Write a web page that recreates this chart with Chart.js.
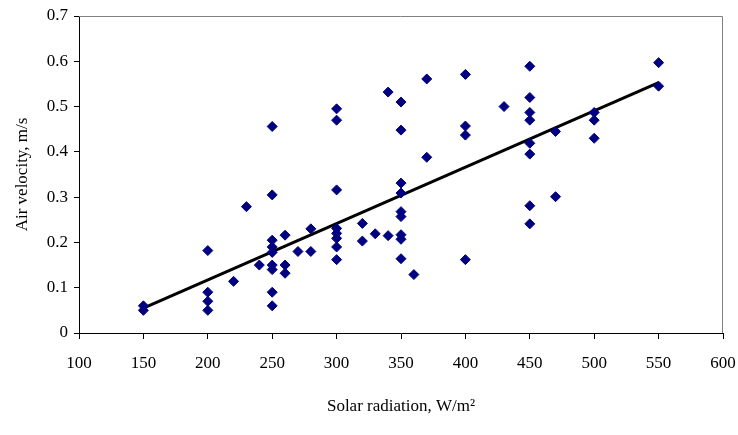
<!DOCTYPE html>
<html>
<head>
<meta charset="utf-8">
<script src="https://cdn.jsdelivr.net/npm/chart.js@4.4.1/dist/chart.umd.min.js"></script>
<style>
  html, body { margin: 0; padding: 0; background: #fff; }
  #wrap { width: 738px; height: 435px; }
</style>
</head>
<body>
<div id="wrap"><canvas id="chart"></canvas></div>
<script>
// Measured points: solar radiation (W/m2) vs air velocity (m/s)
const radiation = [
  150, 150,
  200, 200, 200, 200,
  220, 230, 240,
  250, 250, 250, 250, 250, 250, 250, 250, 250,
  260, 260, 260, 270, 280, 280,
  300, 300, 300, 300, 300, 300, 300, 300,
  320, 320, 330, 340, 340,
  350, 350, 350, 350, 350, 350, 350, 350, 350,
  360, 370, 370,
  400, 400, 400, 400, 430,
  450, 450, 450, 450, 450, 450, 450, 450,
  470, 470, 500, 500, 500, 550, 550
];
const velocity = [
  0.06, 0.05,
  0.182, 0.09, 0.07, 0.05,
  0.114, 0.279, 0.15,
  0.456, 0.305, 0.205, 0.19, 0.178, 0.15, 0.14, 0.09, 0.06,
  0.216, 0.15, 0.132, 0.18, 0.23, 0.18,
  0.495, 0.47, 0.316, 0.231, 0.22, 0.209, 0.19, 0.162,
  0.242, 0.203, 0.219, 0.532, 0.215,
  0.51, 0.448, 0.331, 0.309, 0.268, 0.257, 0.217, 0.207, 0.164,
  0.129, 0.561, 0.388,
  0.571, 0.457, 0.437, 0.162, 0.50,
  0.589, 0.52, 0.487, 0.47, 0.419, 0.395, 0.281, 0.241,
  0.445, 0.301, 0.487, 0.47, 0.43, 0.597, 0.545
];

// Linear trend line end points
const trendX = [150, 550];
const trendY = [0.055, 0.553];

const xTicks = [100, 150, 200, 250, 300, 350, 400, 450, 500, 550, 600];
const yTicks = [0, 0.1, 0.2, 0.3, 0.4, 0.5, 0.6, 0.7];

const FONT = "'Liberation Serif', 'Times New Roman', serif";
const NAVY = '#000080';

// grey frame on top and right of the plot area
const frame = {
  id: 'frame',
  beforeDatasetsDraw(chart) {
    const { ctx, chartArea: a } = chart;
    ctx.save();
    ctx.strokeStyle = '#808080';
    ctx.lineWidth = 1;
    ctx.beginPath();
    ctx.moveTo(a.left, a.top + 0.5);
    ctx.lineTo(a.right - 0.5, a.top + 0.5);
    ctx.lineTo(a.right - 0.5, a.bottom);
    ctx.stroke();
    ctx.restore();
  }
};

new Chart(document.getElementById('chart'), {
  type: 'scatter',
  data: {
    datasets: [
      {
        label: 'Air velocity',
        data: radiation.map((x, i) => ({ x: x, y: velocity[i] })),
        pointStyle: 'rectRot',
        pointRadius: 5,
        pointHoverRadius: 5,
        backgroundColor: NAVY,
        borderColor: NAVY,
        borderWidth: 1
      },
      {
        type: 'line',
        label: 'Trend',
        data: trendX.map((x, i) => ({ x: x, y: trendY[i] })),
        borderColor: '#000',
        borderWidth: 3,
        pointRadius: 0,
        fill: false
      }
    ]
  },
  options: {
    responsive: true,
    maintainAspectRatio: false,
    animation: false,
    layout: { padding: { top: 16, right: 15, left: 0, bottom: 0 } },
    plugins: {
      legend: { display: false },
      tooltip: { enabled: false }
    },
    scales: {
      x: {
        type: 'linear',
        min: 100,
        max: 600,
        afterBuildTicks: s => { s.ticks = xTicks.map(v => ({ value: v })); },
        afterFit: s => { s.height = 102; s.paddingLeft = 0; s.paddingRight = 0; },
        grid: { drawOnChartArea: false, drawTicks: true, tickLength: 6, color: '#000' },
        border: { color: '#000', width: 1 },
        ticks: { color: '#000', padding: 14, font: { family: FONT, size: 17 } },
        title: {
          display: true,
          text: 'Solar radiation, W/m\u00B2',
          color: '#000',
          font: { family: FONT, size: 17 },
          padding: { top: 0, bottom: 18 }
        }
      },
      y: {
        type: 'linear',
        min: 0,
        max: 0.7,
        afterBuildTicks: s => { s.ticks = yTicks.map(v => ({ value: v })); },
        afterFit: s => { s.width = 79; s.paddingTop = 0; s.paddingBottom = 0; },
        grid: { drawOnChartArea: false, drawTicks: true, tickLength: 5, color: '#000' },
        border: { color: '#000', width: 1 },
        ticks: { color: '#000', padding: 6, font: { family: FONT, size: 17 } },
        title: {
          display: true,
          text: 'Air velocity, m/s',
          color: '#000',
          font: { family: FONT, size: 17 },
          padding: { top: 12, bottom: 0 }
        }
      }
    }
  },
  plugins: [frame]
});
</script>
</body>
</html>
